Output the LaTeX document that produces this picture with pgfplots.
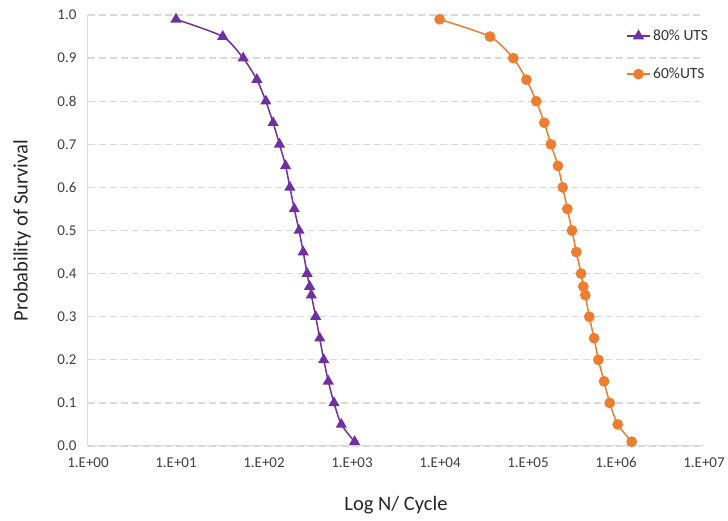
\documentclass[border=0pt]{standalone}
\usepackage{pgfplots}
\pgfplotsset{compat=1.18}
\usepackage{fontspec}
\setmainfont{Carlito}
\definecolor{uts80}{HTML}{7030A0}
\definecolor{uts60}{HTML}{ED7D31}
\definecolor{gridgray}{HTML}{D9D9D9}
\begin{document}
\begin{tikzpicture}
  \begin{axis}[
      xmode=log,
      scale only axis,
      width=616pt, height=431pt,
      xmin=1, xmax=1e7,
      ymin=0, ymax=1,
      axis x line*=bottom,
      axis y line*=left,
      axis line style={gridgray, line width=1pt},
      major tick length=0pt,
      minor tick length=0pt,
      xtick={1,10,100,1000,10000,100000,1000000,10000000},
      xticklabels={1.E+00,1.E+01,1.E+02,1.E+03,1.E+04,1.E+05,1.E+06,1.E+07},
      ytick={0,0.1,...,1.0},
      yticklabel={\pgfmathprintnumber[fixed,fixed zerofill,precision=1]{\tick}},
      /pgf/number format/assume math mode=true,
      ymajorgrids,
      major grid style={gridgray, line width=1.3pt, dash pattern=on 7pt off 4pt},
      tick label style={font=\fontsize{15}{18}\selectfont, text=black!75},
      xticklabel style={yshift=-8pt},
      yticklabel style={xshift=-8pt},
      xlabel={Log N/ Cycle},
      ylabel={Probability of Survival},
      label style={font=\fontsize{20.5}{24}\selectfont, text=black!85},
      x label style={at={(axis description cs:0.5,-0.137)}, anchor=center},
      y label style={at={(axis description cs:-0.107,0.5)}, rotate=0, anchor=center},
      legend style={draw=none, fill=none, at={(rel axis cs:1.015,0.975)}, anchor=north east,
                    font=\fontsize{15.5}{18}\selectfont, row sep=22pt, text=black!80},
      legend cell align=left,
      legend image code/.code={\draw[mark repeat=2,mark phase=2] plot coordinates {(0cm,0cm)(0.42cm,0cm)(0.84cm,0cm)};},
      clip=false,
  ]
  % 80% UTS
  \addplot[smooth, tension=0.4, color=uts80, line width=1.5pt, mark=triangle*, mark size=5pt] coordinates {
    (10,0.99)
    (34,0.95)
    (58,0.90)
    (83,0.85)
    (105,0.80)
    (127,0.75)
    (150,0.70)
    (176,0.65)
    (197,0.60)
    (221,0.55)
    (250,0.50)
    (279,0.45)
    (309,0.40)
    (330,0.37)
    (345,0.35)
    (387,0.30)
    (430,0.25)
    (477,0.20)
    (538,0.15)
    (624,0.10)
    (756,0.05)
    (1070,0.01)
  };
  % 60% UTS
  \addplot[smooth, tension=0.4, color=uts60, line width=1.5pt, mark=*, mark size=4.6pt] coordinates {
    (9900,0.99)
    (37000,0.95)
    (68000,0.90)
    (96000,0.85)
    (124000,0.80)
    (153000,0.75)
    (182000,0.70)
    (219000,0.65)
    (248000,0.60)
    (280000,0.55)
    (316000,0.50)
    (354000,0.45)
    (400000,0.40)
    (425000,0.37)
    (448000,0.35)
    (497000,0.30)
    (563000,0.25)
    (630000,0.20)
    (731000,0.15)
    (848000,0.10)
    (1045000,0.05)
    (1507000,0.01)
  };
  \legend{80\% UTS, 60\%UTS}
  \end{axis}
  \pgfresetboundingbox
  \path (current axis.south west) ++(-88pt,-75pt) coordinate (bl);
  \path ([xshift=24pt,yshift=15pt]current axis.north east) coordinate (tr);
  \useasboundingbox (bl) rectangle (tr);
\end{tikzpicture}
\end{document}
